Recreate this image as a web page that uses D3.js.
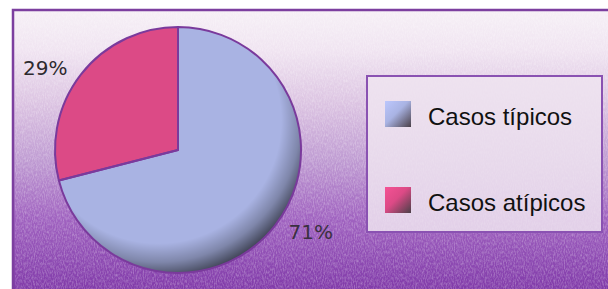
<!DOCTYPE html>
<html lang="es">
<head>
  <meta charset="utf-8">
  <script src="https://d3js.org/d3.v7.min.js"></script>
  <style>
    body { margin: 0; background: #ffffff; }
    svg { display: block; }
  </style>
</head>
<body>
  <script type="text/javascript">
    // chart data
    var categories = ["Casos típicos", "Casos atípicos"];
    var values = [71, 29];
    var pctLabels = ["71%", "29%"];
    var sliceColors = ["#a9b3e3", "#dc4a86"];

    // dimensions
    var dim = {
      width: 608,
      height: 289,
      frameX: 13,
      frameY: 10,
      cx: 178,
      cy: 150,
      radius: 123,
      labelRx: 168,
      labelRy: 134
    };

    var svg = d3.select("body")
      .append("svg")
      .attr("width", dim.width)
      .attr("height", dim.height);

    var defs = svg.append("defs");

    // background gradient, white at top to purple at bottom
    var bg = defs.append("linearGradient")
      .attr("id", "bgGrad")
      .attr("x1", 0).attr("y1", 0)
      .attr("x2", 0).attr("y2", 1);
    [["0%", "#f6f0f6"], ["14%", "#f0e4f1"], ["32%", "#dcc4e2"],
     ["52%", "#bf9bd2"], ["72%", "#a063c0"], ["100%", "#7d35a6"]]
      .forEach(function(s) {
        bg.append("stop").attr("offset", s[0]).attr("stop-color", s[1]);
      });

    // grainy texture
    var noise = defs.append("filter")
      .attr("id", "noise")
      .attr("x", 0).attr("y", 0).attr("width", "100%").attr("height", "100%");
    noise.append("feTurbulence")
      .attr("type", "fractalNoise")
      .attr("baseFrequency", "0.9 0.35")
      .attr("numOctaves", 2)
      .attr("seed", 3);
    noise.append("feColorMatrix")
      .attr("type", "matrix")
      .attr("values", "0 0 0 0 1  0 0 0 0 1  0 0 0 0 1  0 0 0 1.4 -0.5");

    // rim shading for the pie
    var shade = defs.append("radialGradient")
      .attr("id", "pieShade")
      .attr("cx", "42%").attr("cy", "38%").attr("r", "64%");
    shade.append("stop").attr("offset", "0.78").attr("stop-color", "#000").attr("stop-opacity", 0);
    shade.append("stop").attr("offset", "0.9").attr("stop-color", "#000").attr("stop-opacity", 0.25);
    shade.append("stop").attr("offset", "1").attr("stop-color", "#000").attr("stop-opacity", 0.6);

    // legend swatch gradients
    sliceColors.forEach(function(c, i) {
      var g = defs.append("linearGradient")
        .attr("id", "sw" + i)
        .attr("x1", 0).attr("y1", 0).attr("x2", 1).attr("y2", 1);
      g.append("stop").attr("offset", "0%").attr("stop-color", d3.color(c).brighter(0.3));
      g.append("stop").attr("offset", "45%").attr("stop-color", c);
      g.append("stop").attr("offset", "100%").attr("stop-color", "#4a4048");
    });

    // frame
    svg.append("rect")
      .attr("x", dim.frameX)
      .attr("y", dim.frameY)
      .attr("width", dim.width)
      .attr("height", dim.height)
      .attr("fill", "url(#bgGrad)")
      .attr("stroke", "#7c3f9f")
      .attr("stroke-width", 2.5);

    svg.append("rect")
      .attr("x", dim.frameX + 2)
      .attr("y", dim.frameY + 2)
      .attr("width", dim.width)
      .attr("height", dim.height)
      .attr("filter", "url(#noise)")
      .attr("opacity", 0.4);

    // pie
    var pie = d3.pie().sort(null).value(function(d) { return d; });
    var arcs = pie(values);
    var arc = d3.arc().innerRadius(0).outerRadius(dim.radius);

    var pieG = svg.append("g")
      .attr("transform", "translate(" + dim.cx + "," + dim.cy + ")");

    pieG.selectAll("path.slice")
      .data(arcs)
      .enter()
      .append("path")
      .attr("class", "slice")
      .attr("d", arc)
      .attr("fill", function(d, i) { return sliceColors[i]; });

    pieG.append("circle")
      .attr("r", dim.radius)
      .attr("fill", "url(#pieShade)");

    pieG.selectAll("path.edge")
      .data(arcs)
      .enter()
      .append("path")
      .attr("class", "edge")
      .attr("d", arc)
      .attr("fill", "none")
      .attr("stroke", "#7a3a9c")
      .attr("stroke-width", 2)
      .attr("stroke-linejoin", "round");

    // percentage labels on an ellipse around the pie
    pieG.selectAll("text.pct")
      .data(arcs)
      .enter()
      .append("text")
      .attr("class", "pct")
      .attr("x", function(d) {
        var a = (d.startAngle + d.endAngle) / 2;
        return dim.labelRx * Math.sin(a);
      })
      .attr("y", function(d) {
        var a = (d.startAngle + d.endAngle) / 2;
        return -dim.labelRy * Math.cos(a) + 7;
      })
      .attr("text-anchor", "middle")
      .style("font-family", "'DejaVu Sans', sans-serif")
      .style("font-size", "20px")
      .attr("fill", function(d, i) { return i === 0 ? "#3a3040" : "#2e2a2e"; })
      .text(function(d, i) { return pctLabels[i]; });

    // legend
    var legend = svg.append("g");
    legend.append("rect")
      .attr("x", 367)
      .attr("y", 76)
      .attr("width", 235)
      .attr("height", 156)
      .attr("fill", "#efe4f0")
      .attr("fill-opacity", 0.85)
      .attr("stroke", "#8a52b2")
      .attr("stroke-width", 2);

    var rowY = d3.scalePoint()
      .domain(categories)
      .range([114, 200]);

    var rows = legend.selectAll("g.row")
      .data(categories)
      .enter()
      .append("g")
      .attr("class", "row")
      .attr("transform", function(d) { return "translate(385," + rowY(d) + ")"; });

    rows.append("rect")
      .attr("x", 0)
      .attr("y", -13)
      .attr("width", 26)
      .attr("height", 26)
      .attr("fill", function(d, i) { return "url(#sw" + i + ")"; });

    rows.append("text")
      .attr("x", 43)
      .attr("y", 11)
      .style("font-family", "'Liberation Sans', Arial, sans-serif")
      .style("font-size", "24px")
      .attr("fill", "#111")
      .text(function(d) { return d; });
  </script>
</body>
</html>
